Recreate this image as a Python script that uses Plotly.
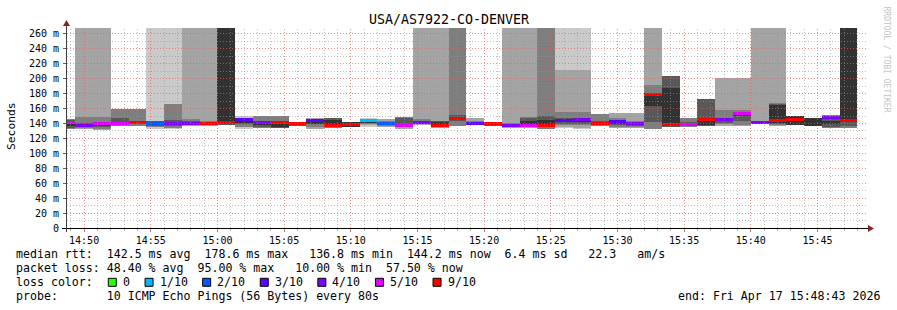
import math
import plotly.graph_objects as go
import pandas as pd

# ---------------- data ----------------
title = "USA/AS7922-CO-DENVER"
step_start = "2026-04-17 14:48:00"   # start of first (partially visible) 80 s step
step_seconds = 80
view_start = "2026-04-17 14:48:43"
view_end = "2026-04-17 15:48:43"

N = None   # lost ping / no value
T = 999    # rtt above the top of the chart

# sorted ping slots (ms) per 80 s step, smokeping style
ping1 = [N, N, N, N, N, 133, 133, N, N, N, 132, N, N, N, N, N, N, 135.5, N, N, N, N, N, N, N,
         N, N, N, 133.8, 133.3, N, N, N, N, N, N, N, N, N, N, N, N, N, N, N]
ping2 = [N, 132.5, 131.5, N, N, N, N, 137, 136.5, N, N, N, N, N, 133, N, N, 137.5, 136, 133.3, 137.8, 134, N, 138, N,
         134, 133.8, N, 136, 134.5, N, 133.8, 134.5, 132.5, N, N, N, 137.3, 137.3, 139, 137, N, N, N, N]
ping3 = [132.5, 134, 133, 137, 137, 135, 134.5, 138, 137.5, N, 136, 134.5, 134, N, 136, 133.5, N, 139, 137, 135, 139, 135, 137, 138.5, N,
         135, 135, 133.3, 137.5, 138, 137.3, 136, 136, 133, N, 136, N, 139, 138, 140, 138, N, N, 133.8, 133.8]
ping4 = [134, 136, 135, 139, 139, 137, 136.5, 139, 138.5, 138.5, 139, 136, 134.5, 137, 139, 136, N, 140.5, 138, 136.5, 139.5, 136, 143, 139, 137,
         136, 136, 135, 140, 140, 138.5, 138, 137, 142, 136, 137, 137, 141, 143, 140.5, 139, 138, N, 136, 137]
ping5 = [137, 137, 137.5, 140, 140, 138.5, 139, 139.5, 139, 140, 141, 138.5, 135, 138, 140.5, 137, 135.2, 141.5, 139, 137, 140, 136.5, 145, 139.5, 138,
         137, 137, 136, 141.5, 142, 139.5, 140, 138.5, 164, 136.5, 137.5, 137.5, 143, 150, 141, 141, 138.5, 137.3, 140, 141.5]
ping6 = [142, 139, 140, 141, 141.5, 141, 142, 142, 141, T, 143, 141, 140, 141, 143, 145, 142.2, 143, 141, 138, 141.5, 142, 148, 141, 141,
         139, 144, 145, 145, 146, 142, 143, 141.5, 177, 188, 140, 144, 146.5, 153, 143, 165, 150, 147, 143, T]
ping7 = [145, 141, 142, 147.5, 143, 143, 145, 143, 142, T, 145, 143, 144, 142, 145, 147, N, 144, 142, 148, 143, 143, 151, 142, 142.5,
         140, 148, 150, 147, 148, 143, 145, 142.5, 180, 204, 142.5, 173, 148, 155, 143.5, 166, 150.3, N, 150.3, T]
ping8 = [146.5, 149, 149, 159, 159, 144, 165.5, 145.5, 143, N, 147, 150, 150, N, 146.5, 147.5, N, 145, 143, 148.5, 146, 144, T, 143, N,
         140.5, 149.3, T, 156, 156, 153, 148, 144, 192, N, 148, N, 158.3, 158, 144, 167, N, N, 151, T]
ping9 = [N, T, T, N, N, N, N, T, T, N, N, N, N, N, 147.5, N, N, 146, 145.5, 149, T, T, N, 148, N,
         T, T, N, 212, 212, N, 154.7, 154.5, T, N, N, N, 201, 201, T, T, N, N, N, N]
ping10 = [N, N, N, N, N, T, T, N, N, N, 150, N, N, N, N, N, N, 147, N, N, N, N, N, N, N,
          N, N, N, T, T, N, N, N, N, N, N, N, N, N, N, N, N, N, N, N]

median = [141, 138, 139.5, 140.5, 141, 140, 140, 140.5, 140, 141.5, 145, 141.4, 141, 139.6, 144.5, 137.3, 139, 144.7, 140.5, 137.3,
          141, 136.8, 147, 140, 139.6, 138, 137.8, 137.8, 143.4, 145, 140.5, 142.2, 139.5, 178.6, 138.4, 138.5, 145.8, 144.9, 153,
          142, 143.5, 145.7, N, 147.8, 144.2]
loss = [5, 4, 5, 5, 6, 2, 4, 4, 6, 7, 3, 4, 6, 7, 3, 6, 7, 1, 2, 5, 4, 6, 6, 3, 7, 4, 5, 6, 3, 4, 6, 3, 4, 6, 7, 5, 6, 4, 5, 4,
        6, 7, 10, 4, 6]

loss_bins = [0, 1, 2, 3, 4, 5, 9]
loss_labels = ["0", "1/10", "2/10", "3/10", "4/10", "5/10", "9/10"]
loss_colors = ["#26ff00", "#00b8ff", "#0059ff", "#5e00ff", "#7e00ff", "#dd00ff", "#ff0000"]
smoke_colors = ["#cacaca", "#a4a4a4", "#7e7e7e", "#585858", "#323232"]

y_ticks = list(range(0, 261, 20))
y_ticktext = ["0"] + [f"{v} m" for v in y_ticks[1:]]

legend_lines = [
    "median rtt:  142.5 ms avg  178.6 ms max   136.8 ms min  144.2 ms now  6.4 ms sd   22.3   am/s",
    "packet loss: 48.40 % avg  95.00 % max   10.00 % min  57.50 % now",
    "loss color:",
    "probe:       10 ICMP Echo Pings (56 Bytes) every 80s",
]
end_text = "end: Fri Apr 17 15:48:43 2026"
watermark = "RRDTOOL / TOBI OETIKER"

# ---------------- layout constants ----------------
W, H = 897, 310
ML, MR, MT, MB = 67, 30, 28, 82
PW, PH = W - ML - MR, H - MT - MB
Y_MAX = 268
MED_THICK = 4.0
MONO = "DejaVu Sans Mono"
MAJOR_GRID = "rgba(235,90,90,0.7)"
MINOR_GRID = "rgba(150,150,150,0.6)"
GRID_DASH = "1px,2px"


def px_x(px):
    return (px - ML) / PW


def px_y(py):
    return (H - MB - py) / PH


def snap(p):
    return math.floor(p) + 0.5


def nb(s):
    return s.replace(" ", "\u00a0")


def loss_color(l):
    for b, c in zip(loss_bins, loss_colors):
        if l <= b:
            return c
    return loss_colors[-1]


times = pd.date_range(step_start, periods=len(median), freq=f"{step_seconds}s") + pd.Timedelta(seconds=step_seconds / 2)
pings = [ping1, ping2, ping3, ping4, ping5, ping6, ping7, ping8, ping9, ping10]

fig = go.Figure()
for i in range(5):
    lo, hi = pings[i], pings[9 - i]
    base, hgt = [], []
    for a, b in zip(lo, hi):
        if a is None or b is None:
            base.append(None)
            hgt.append(None)
        else:
            base.append(a)
            hgt.append(b - a)
    fig.add_trace(go.Bar(x=times, y=hgt, base=base, width=step_seconds * 1000,
                         marker=dict(color=smoke_colors[i], line=dict(width=0)),
                         hoverinfo="skip", showlegend=False))

med_base = [None if m is None else m - MED_THICK / 2 for m in median]
med_h = [None if m is None else MED_THICK for m in median]
fig.add_trace(go.Bar(x=times, y=med_h, base=med_base, width=step_seconds * 1000,
                     marker=dict(color=[loss_color(l) for l in loss], line=dict(width=0)),
                     showlegend=False, hovertext=[f"{m} ms" for m in median]))

shapes = []
# grid drawn above the data like rrdtool, snapped to pixel centres
x0 = pd.Timestamp(view_start)
x1 = pd.Timestamp(view_end)
span = (x1 - x0).total_seconds()
t = x0.ceil("min")
while t < x1:
    major = t.minute % 5 == 0
    xp = snap(ML + (t - x0).total_seconds() / span * PW)
    shapes.append(dict(type="line", xref="paper", yref="paper", x0=px_x(xp), x1=px_x(xp), y0=0, y1=1,
                       layer="above",
                       line=dict(color=MAJOR_GRID if major else MINOR_GRID, width=1, dash=GRID_DASH)))
    t += pd.Timedelta(minutes=1)
for v in range(10, Y_MAX, 10):
    major = v % 20 == 0
    yp = snap(H - MB - v / Y_MAX * PH)
    shapes.append(dict(type="line", xref="paper", yref="paper", x0=0, x1=1, y0=px_y(yp), y1=px_y(yp),
                       layer="above",
                       line=dict(color=MAJOR_GRID if major else MINOR_GRID, width=1, dash=GRID_DASH)))
# axis lines + arrows
shapes.append(dict(type="line", xref="paper", yref="paper", x0=px_x(62), x1=px_x(869),
                   y0=px_y(228.5), y1=px_y(228.5),
                   line=dict(color="#000000", width=1), layer="above"))
shapes.append(dict(type="line", xref="paper", yref="paper", x0=px_x(66.5), x1=px_x(66.5),
                   y0=px_y(232), y1=px_y(24),
                   line=dict(color="#404040", width=1), layer="above"))
shapes.append(dict(type="path", xref="paper", yref="paper",
                   path=f"M {px_x(63)} {px_y(26)} L {px_x(66.5)} {px_y(20)} L {px_x(70)} {px_y(26)} Z",
                   fillcolor="#8b2222", line=dict(width=0), layer="above"))
shapes.append(dict(type="path", xref="paper", yref="paper",
                   path=f"M {px_x(868)} {px_y(225)} L {px_x(874)} {px_y(228.5)} L {px_x(868)} {px_y(232)} Z",
                   fillcolor="#8b2222", line=dict(width=0), layer="above"))

annotations = []
annotations.append(dict(text=title, xref="paper", yref="paper", x=px_x(448.5), y=px_y(19),
                        xanchor="center", yanchor="middle", showarrow=False,
                        font=dict(family=MONO, size=13.3, color="#000000")))
annotations.append(dict(text="Seconds", xref="paper", yref="paper", x=px_x(11), y=px_y(126),
                        xanchor="center", yanchor="middle", textangle=-90, showarrow=False,
                        font=dict(family=MONO, size=11.3, color="#000000")))
annotations.append(dict(text=nb(watermark), xref="paper", yref="paper", x=px_x(886.5), y=px_y(59),
                        xanchor="center", yanchor="middle", textangle=90, showarrow=False,
                        font=dict(family=MONO, size=8, color="#c4c4c4")))
line_y = [254.3, 268.3, 282.3, 296.2]
for s, yy in zip(legend_lines, line_y):
    annotations.append(dict(text=nb(s), xref="paper", yref="paper", x=px_x(14), y=px_y(yy),
                            xanchor="left", yanchor="middle", showarrow=False,
                            font=dict(family=MONO, size=11.6, color="#000000")))
annotations.append(dict(text=nb(end_text), xref="paper", yref="paper", x=px_x(882), y=px_y(line_y[3]),
                        xanchor="right", yanchor="middle", showarrow=False,
                        font=dict(family=MONO, size=11.6, color="#000000")))
# loss colour legend boxes
bx = 108.3
for lab, col in zip(loss_labels, loss_colors):
    shapes.append(dict(type="rect", xref="paper", yref="paper", x0=px_x(bx), x1=px_x(bx + 8),
                       y0=px_y(line_y[2] + 4), y1=px_y(line_y[2] - 4),
                       fillcolor=col, line=dict(color="#000000", width=1)))
    annotations.append(dict(text=nb(lab), xref="paper", yref="paper", x=px_x(bx + 12.5), y=px_y(line_y[2]),
                            xanchor="left", yanchor="middle", showarrow=False,
                            font=dict(family=MONO, size=11.6, color="#000000")))
    bx += 14.5 + 6.95 * len(lab) + 15.3

fig.update_layout(
    width=W, height=H, autosize=False,
    margin=dict(l=ML, r=MR, t=MT, b=MB, pad=0),
    paper_bgcolor="#ffffff", plot_bgcolor="#ffffff",
    barmode="overlay", bargap=0, showlegend=False,
    shapes=shapes, annotations=annotations,
    xaxis=dict(type="date", range=[view_start, view_end], showgrid=False, zeroline=False,
               tick0="2026-04-17 14:50:00", dtick=300000, tickformat="%H:%M",
               ticks="outside", ticklen=3, tickcolor="#e07070",
               minor=dict(dtick=60000, ticks="outside", ticklen=2, tickcolor="#b0b0b0", showgrid=False),
               tickfont=dict(family=MONO, size=10, color="#000000"), showline=False, fixedrange=True),
    yaxis=dict(range=[0, Y_MAX], showgrid=False, zeroline=False, tickvals=y_ticks, ticktext=y_ticktext,
               ticks="outside", ticklen=3, tickcolor="#606060", ticklabelstandoff=2,
               tickfont=dict(family=MONO, size=10, color="#000000"), showline=False, fixedrange=True),
)

fig.write_html("out.html")
